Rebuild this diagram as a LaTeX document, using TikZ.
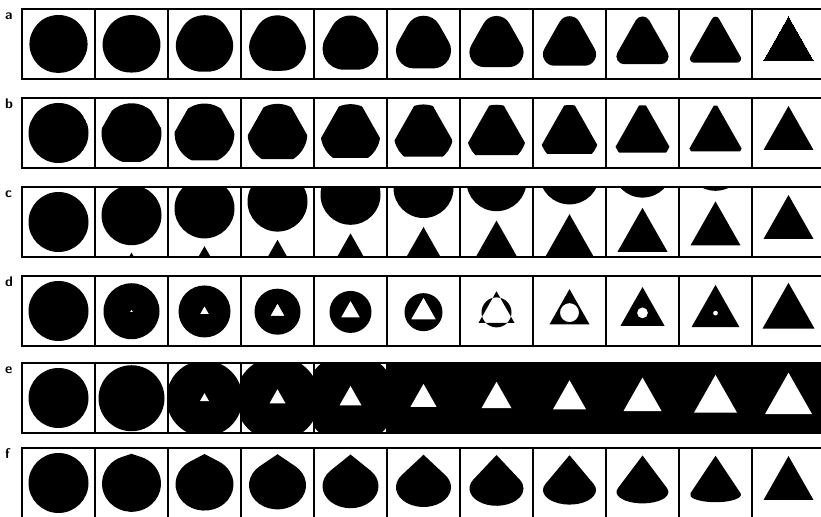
\documentclass[tikz,border=0pt]{standalone}
\usepackage{tikz}

\begin{document}
\begin{tikzpicture}[
    x=0.03cm, y=0.03cm,
    frame/.style={draw=black, line width=1.4pt},
    blob/.style={fill=black},
    gap/.style={fill=white},
    rowlabel/.style={font=\sffamily\bfseries\large, inner sep=0pt, anchor=base west}
  ]
  \useasboundingbox (0,0) rectangle (821,517);

  % a: circle rounded down into the triangle
  \foreach \i in {0,...,10} {
    \pgfmathsetmacro{\t}{max((\i/10)^1.4,0.01)}
    \pgfmathsetmacro{\lw}{58*(1-\t)*0.03}
    \begin{scope}[shift={(58.5+73*\i,473)}]
      \filldraw[blob, line width=\lw cm, line join=round]
        (0,27*\t) -- (-25*\t,-17*\t) -- (25*\t,-17*\t) -- cycle;
    \end{scope}
  }

  % b: circle cut by a triangle
  \foreach \i in {0,...,10} {
    \pgfmathsetmacro{\t}{\i/10}
    \pgfmathsetmacro{\k}{2.05-1.05*\t}
    \pgfmathsetmacro{\r}{30-0.6*\t}
    \pgfmathsetmacro{\cy}{-2.33*\t}
    \begin{scope}[shift={(58.5+73*\i,384)}]
      \clip (0,\cy) circle (\r);
      \fill[blob] (0,\cy) ++(0,29.33*\k) -- ++(-25*\k,-44*\k) -- ++(50*\k,0) -- cycle;
    \end{scope}
  }

  % c: circle slides out, triangle slides in
  \foreach \i in {0,...,10} {
    \pgfmathsetmacro{\cy}{6.8*\i}
    \pgfmathsetmacro{\ty}{27-6.4*(10-\i)}
    \begin{scope}[shift={(58.5+73*\i,295)}]
      \clip (-36.5,-35) rectangle (36.5,35);
      \fill[blob] (0,\cy) circle (30);
      \fill[blob] (0,\ty) -- ++(-25,-44) -- ++(50,0) -- cycle;
    \end{scope}
  }

  % d: circle xor triangle
  \foreach \i/\r/\w in {0/30/0, 1/28/3, 2/26/9, 3/23/14, 4/21/19, 5/19/25,
                        6/15/36, 7/9.5/40, 8/5.5/44, 9/2.5/48, 10/0/52} {
    \pgfmathsetmacro{\k}{\w/50}
    \pgfmathsetmacro{\cy}{-0.233*\i}
    \begin{scope}[shift={(58.5+73*\i,206)}]
      \fill[blob, even odd rule] (0,\cy) circle (\r)
        (0,\cy) ++(0,29.33*\k) -- ++(-25*\k,-44*\k) -- ++(50*\k,0) -- cycle;
    \end{scope}
  }

  % e: circle grows over the cell, white triangle grows
  \foreach \i/\r/\w in {0/30/0, 1/33/0, 2/38/9, 3/42/16, 4/46/22, 5/50/26,
                        6/56/30, 7/60/33, 8/60/38, 9/60/43, 10/60/47} {
    \pgfmathsetmacro{\k}{\w/50}
    \pgfmathsetmacro{\cy}{-0.233*\i}
    \begin{scope}[shift={(58.5+73*\i,119)}]
      \clip (-36.5,-35) rectangle (36.5,35);
      \fill[blob] (0,\cy) circle (\r);
      \fill[gap] (0,\cy) ++(0,29.33*\k) -- ++(-25*\k,-44*\k) -- ++(50*\k,0) -- cycle;
    \end{scope}
  }

  % f: circle pulled up into a cone
  \fill[blob] (58.5,34) circle (30);
  \foreach \i in {1,...,9} {
    \pgfmathsetmacro{\t}{\i/10}
    \pgfmathsetmacro{\ry}{30*(1-\t)^0.6}
    \pgfmathsetmacro{\rx}{30-5*\t}
    \pgfmathsetmacro{\cy}{-30+12*\t+\ry}
    \pgfmathsetmacro{\ay}{29.5-2.5*\t}
    \pgfmathsetmacro{\a}{acos(\ry/(\ay-\cy))}
    \pgfmathsetmacro{\px}{\rx*cos(90+\a)}
    \pgfmathsetmacro{\py}{\cy+\ry*sin(90+\a)}
    \begin{scope}[shift={(58.5+73*\i,34)}]
      \fill[blob] (0,\ay) -- (\px,\py)
        arc[start angle=90+\a, end angle=450-\a, x radius=\rx, y radius=\ry] -- cycle;
    \end{scope}
  }
  \fill[blob] (788.5,34) ++(0,27) -- ++(-25,-44) -- ++(50,0) -- cycle;

  % frames and labels
  \foreach \r/\y in {a/473, b/384, c/295, d/206, e/119, f/34} {
    \draw[frame] (22,\y-35) rectangle (825,\y+35);
    \foreach \k in {1,...,10}
      \draw[frame] (22+73*\k,\y-35) -- (22+73*\k,\y+35);
    \node[rowlabel] (label-\r) at (5,\y+24) {\r};
  }
\end{tikzpicture}
\end{document}
